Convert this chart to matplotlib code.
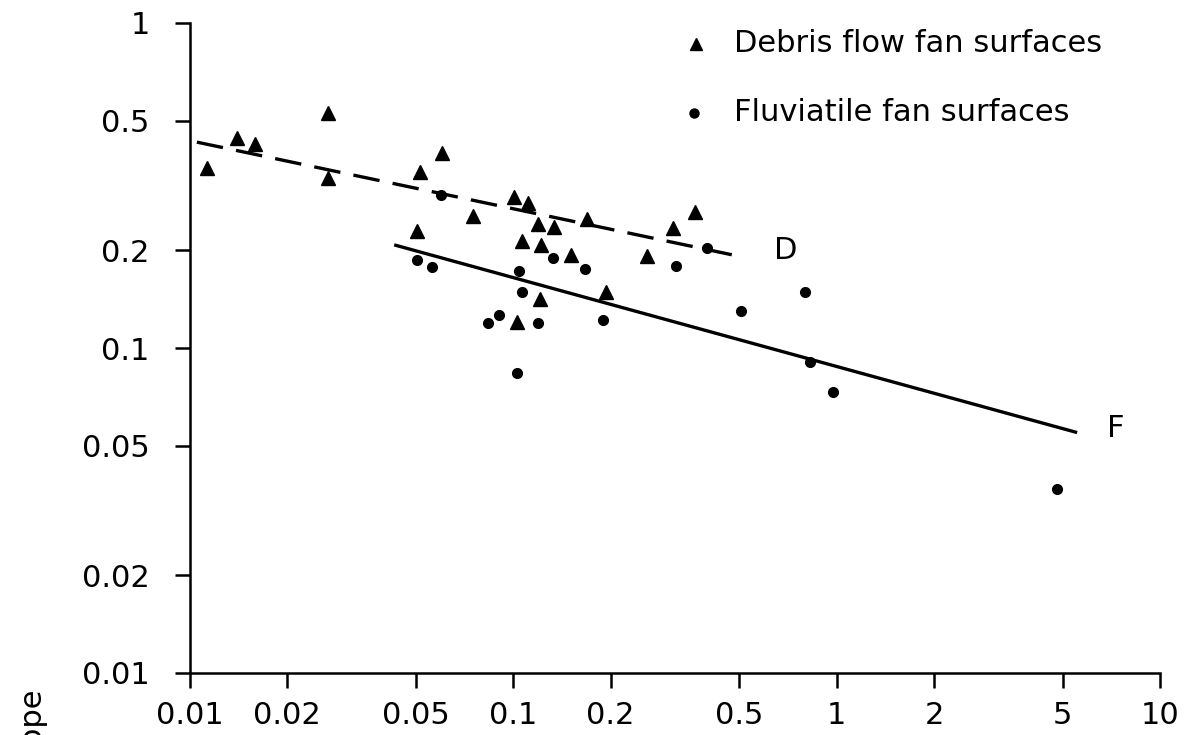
import matplotlib.pyplot as plt

plt.rcParams["font.family"] = ["DejaVu Sans"]

# Debris flow fan surfaces (triangles)
debris_x = [0.0113, 0.014, 0.0159, 0.0268, 0.0268, 0.0514, 0.0602, 0.0751,
            0.0503, 0.1007, 0.111, 0.119, 0.134, 0.169, 0.1066, 0.122,
            0.151, 0.121, 0.1029, 0.193, 0.259, 0.312, 0.365]
debris_y = [0.358, 0.443, 0.424, 0.529, 0.334, 0.348, 0.398, 0.255,
            0.229, 0.292, 0.279, 0.241, 0.236, 0.249, 0.213, 0.207,
            0.193, 0.142, 0.120, 0.149, 0.192, 0.234, 0.262]

# Fluviatile fan surfaces (dots)
fluv_x = [0.0598, 0.0503, 0.056, 0.133, 0.166, 0.1044, 0.1066, 0.0836,
          0.0905, 0.1196, 0.103, 0.189, 0.318, 0.397, 0.507, 0.796,
          0.825, 0.972, 4.79]
fluv_y = [0.296, 0.187, 0.178, 0.189, 0.175, 0.173, 0.149, 0.119,
          0.126, 0.119, 0.0838, 0.122, 0.179, 0.203, 0.130, 0.149,
          0.0905, 0.0732, 0.0368]

# fitted lines
line_d_x = [0.0105, 0.493]
line_d_y = [0.430, 0.192]
line_f_x = [0.0433, 5.48]
line_f_y = [0.207, 0.0551]

ticks_x = [0.01, 0.02, 0.05, 0.1, 0.2, 0.5, 1, 2, 5, 10]
ticks_x_lab = ["0.01", "0.02", "0.05", "0.1", "0.2", "0.5", "1", "2", "5", "10"]
ticks_y = [0.01, 0.02, 0.05, 0.1, 0.2, 0.5, 1]
ticks_y_lab = ["0.01", "0.02", "0.05", "0.1", "0.2", "0.5", "1"]

fig = plt.figure(figsize=(11.89, 7.35), dpi=100)
ax = fig.add_axes([190/1189, 1 - 673/735, 970/1189, 650/735])

ax.plot(line_d_x, line_d_y, color="black", lw=2.4, dashes=(8, 4))
ax.plot(line_f_x, line_f_y, color="black", lw=2.4)
ax.plot(debris_x, debris_y, "^", color="black", ms=10.5, ls="none")
ax.plot(fluv_x, fluv_y, "o", color="black", ms=7, ls="none")

ax.text(0.64, 0.20, "D", fontsize=22, va="center", ha="left")
ax.text(6.85, 0.0567, "F", fontsize=22, va="center", ha="left")

# legend
ax.plot([0.522], [0.968], "^", color="black", ms=8.5, transform=ax.transAxes, clip_on=False)
ax.plot([0.520], [0.862], "o", color="black", ms=6.5, transform=ax.transAxes, clip_on=False)
ax.text(0.561, 0.968, "Debris flow fan surfaces", fontsize=22, va="center",
        transform=ax.transAxes)
ax.text(0.561, 0.862, "Fluviatile fan surfaces", fontsize=22, va="center",
        transform=ax.transAxes)

ax.set_xscale("log")
ax.set_yscale("log")
ax.set_xlim(0.01, 10)
ax.set_ylim(0.01, 1)
ax.set_xticks(ticks_x)
ax.set_xticklabels(ticks_x_lab)
ax.set_yticks(ticks_y)
ax.set_yticklabels(ticks_y_lab)
ax.minorticks_off()
ax.tick_params(direction="out", length=11, width=1.8, labelsize=22)
ax.tick_params(axis="y", pad=18)
ax.tick_params(axis="x", pad=9)

ax.spines["top"].set_visible(False)
ax.spines["right"].set_visible(False)
ax.spines["left"].set_linewidth(1.8)
ax.spines["bottom"].set_linewidth(1.8)

fig.text(32/1189, 1 - 688/735, "Slope", rotation=90, fontsize=22,
         ha="center", va="top")

plt.savefig("out.png", dpi=100)
